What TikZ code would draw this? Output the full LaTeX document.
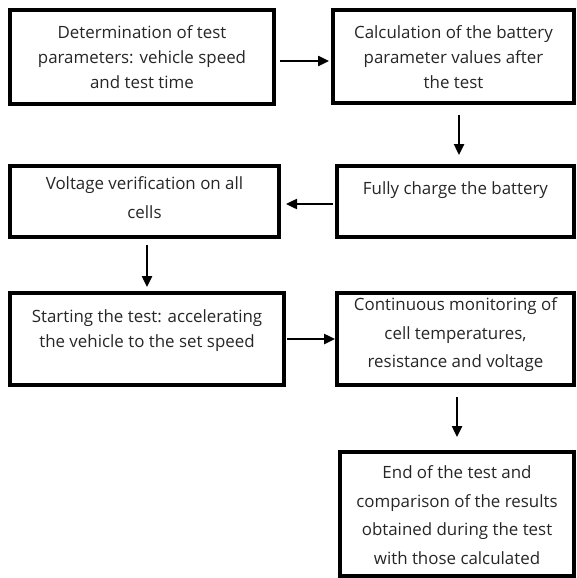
\documentclass[tikz,border=0pt]{standalone}
\usepackage{fontspec}
\setmainfont{Open Sans}
\usetikzlibrary{arrows.meta}
\begin{document}
\begin{tikzpicture}[x=1pt,y=-1pt,
  box/.style={draw, line width=3.1pt, inner sep=0pt, outer sep=0pt},
  lbl/.style={align=center, inner sep=0pt, text=black!85},
  fa/.style={font=\fontsize{16.9}{25}\selectfont},
  fb/.style={font=\fontsize{16.9}{28.5}\selectfont},
  arr/.style={line width=2.4pt, -{Triangle[length=11pt,width=10pt]}}]
\useasboundingbox (0,0) rectangle (576,578);
% boxes
\node[box, minimum width=264pt, minimum height=94pt] (b1) at (142,57) {};
\node[box, minimum width=241pt, minimum height=93pt] (b2) at (453.5,56.5) {};
\node[box, minimum width=237pt, minimum height=71pt] (b3) at (455.5,201.5) {};
\node[box, minimum width=269pt, minimum height=71pt] (b4) at (144.5,201.5) {};
\node[box, minimum width=274pt, minimum height=92pt] (b5) at (147,339) {};
\node[box, minimum width=237pt, minimum height=92pt] (b6) at (455.5,339) {};
\node[box, minimum width=234pt, minimum height=124pt] (b7) at (457,514) {};
% texts
\node[lbl, fa] (t1) at (142,57) {Determination of test\\parameters: vehicle speed\\and test time};
\node[lbl, fa] (t2) at (453.5,57) {Calculation of the battery\\parameter values after\\the test};
\node[lbl, fa] (t3) at (455.5,190) {Fully charge the battery};
\node[lbl, fb] (t4) at (144.5,197.5) {Voltage verification on all\\cells};
\node[lbl, fa] (t5) at (147,330.5) {Starting the test: accelerating\\the vehicle to the set speed};
\node[lbl, fb] (t6) at (455.5,335) {Continuous monitoring of\\cell temperatures,\\resistance and voltage};
\node[lbl, fb] (t7) at (457,515) {End of the test and\\comparison of the results\\obtained during the test\\with those calculated};
% arrows
\draw[arr, shorten <=6pt, shorten >=4pt] ([yshift=-4pt]b1.east) -- ([yshift=-4pt]b1.east -| b2.west);
\draw[arr, shorten <=12pt, shorten >=11pt] ([xshift=5.5pt]b2.south) -- ([xshift=5.5pt]b2.south |- b3.north);
\draw[arr, shorten <=4pt, shorten >=7pt] ([yshift=-2.5pt]b3.west) -- ([yshift=-2.5pt]b3.west -| b4.east);
\draw[arr, shorten <=8pt, shorten >=6pt] ([xshift=2.5pt]b4.south) -- ([xshift=2.5pt]b4.south |- b5.north);
\draw[arr, shorten <=3pt, shorten >=2pt] (b5.east) -- (b5.east -| b6.west);
\draw[arr, shorten <=12pt, shorten >=15pt] ([xshift=1.5pt]b6.south) -- ([xshift=1.5pt]b6.south |- b7.north);
\end{tikzpicture}
\end{document}
